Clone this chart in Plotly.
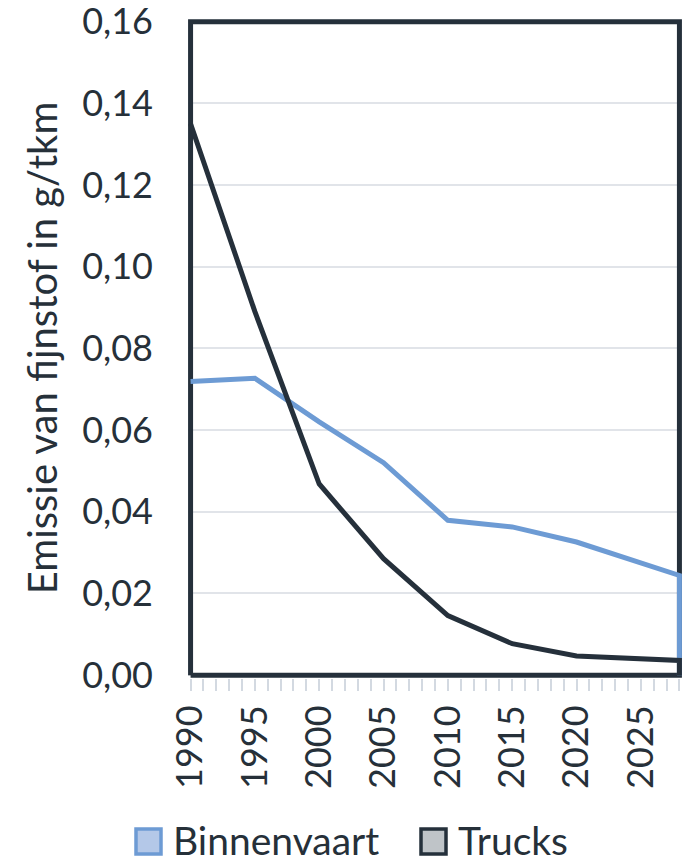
import plotly.graph_objects as go

years = [1990, 1995, 2000, 2005, 2010, 2015, 2020, 2028]
binnenvaart = [0.0719, 0.0727, 0.0620, 0.0520, 0.0379, 0.0363, 0.0326, 0.0244]
trucks = [0.1350, 0.0890, 0.0468, 0.0285, 0.0146, 0.0077, 0.0047, 0.0036]
x_labels = [1990, 1995, 2000, 2005, 2010, 2015, 2020, 2025]
y_ticks = [0.00, 0.02, 0.04, 0.06, 0.08, 0.10, 0.12, 0.14, 0.16]
series_names = ["Binnenvaart", "Trucks"]

DARK = "#25303b"
BLUE = "#6d9bd4"
TEXT = "#263039"
FONT = "Lato"
W, H = 689, 859
ML, MR, MT, MB = 188, 7, 18, 181
PW, PH = W - ML - MR, H - MT - MB
XR = [1989.8, 2028.2]
YR = [-0.0007, 0.1609]

def px(xp):
    return (xp - ML) / PW

def py(yp):
    return (H - MB - yp) / PH

fig = go.Figure()

# plot frame, drawn first so the series lie on top of it
x0, x1 = years[0], years[-1]
y0, y1 = y_ticks[0], y_ticks[-1]
fig.add_trace(go.Scatter(x=[x0, x1, x1, x0, x0], y=[y0, y0, y1, y1, y0], mode="lines",
                         line=dict(color=DARK, width=5), showlegend=False,
                         hoverinfo="skip"))

# area outlines (no fill): series closed down to the base at the last year
def outline(xs, ys):
    return xs + [xs[-1]], ys + [0]

bx, by = outline(years, binnenvaart)
tx, ty = outline(years, trucks)

fig.add_trace(go.Scatter(x=bx, y=by, mode="lines", line=dict(color=BLUE, width=5),
                         name=series_names[0], showlegend=False, hoverinfo="skip"))
fig.add_trace(go.Scatter(x=tx, y=ty, mode="lines", line=dict(color=DARK, width=5),
                         name=series_names[1], showlegend=False, hoverinfo="skip"))

# legend (drawn manually for large square swatches)
legend_items = [
    (series_names[0], "#b4c8e8", BLUE, 136, 171),
    (series_names[1], "#bfc4c8", DARK, 421, 456),
]
for name, fill, edge, sx, tx0 in legend_items:
    fig.add_shape(type="rect", xref="paper", yref="paper",
                  x0=px(sx), x1=px(sx + 25), y0=py(854), y1=py(829),
                  fillcolor=fill, line=dict(color=edge, width=3.5), layer="above")
    fig.add_annotation(xref="paper", yref="paper", x=px(tx0), y=py(840),
                       text=name, showarrow=False, xanchor="left", yanchor="middle",
                       height=42, valign="middle",
                       font=dict(size=39, color=TEXT, family=FONT))

fig.update_layout(
    width=W, height=H,
    margin=dict(l=ML, r=MR, t=MT, b=MB, autoexpand=False),
    paper_bgcolor="white", plot_bgcolor="white",
    separators=", ",
    font=dict(family=FONT, color=TEXT, size=36),
    showlegend=False,
)

fig.update_xaxes(
    range=XR, tickmode="array", tickvals=x_labels,
    ticktext=[str(v) for v in x_labels], tickangle=-90,
    ticks="outside", ticklen=12, tickwidth=2, tickcolor="#d3d9e1",
    minor=dict(dtick=1, tick0=1990, ticks="outside", ticklen=12, tickwidth=2,
               tickcolor="#d3d9e1", showgrid=False),
    showgrid=False, zeroline=False, showline=False, automargin=False,
    tickfont=dict(size=36, color=TEXT, family=FONT),
    ticklabelstandoff=0,
)
fig.update_yaxes(
    range=YR, tickmode="array", tickvals=y_ticks,
    tickformat=".2f", showgrid=True, gridcolor="#e1e4e9", gridwidth=1.6,
    zeroline=False, showline=False, ticks="", automargin=False,
    tickfont=dict(size=36, color=TEXT, family=FONT),
    ticklabelstandoff=34, ticklabeloverflow="allow",
    title=dict(text="Emissie van fijnstof in g/tkm", font=dict(size=40, color=TEXT, family=FONT),
               standoff=12),
)

fig.write_html("out.html", config={"displayModeBar": False},
               post_script="document.body.style.margin='0';document.body.style.overflow='hidden';")
